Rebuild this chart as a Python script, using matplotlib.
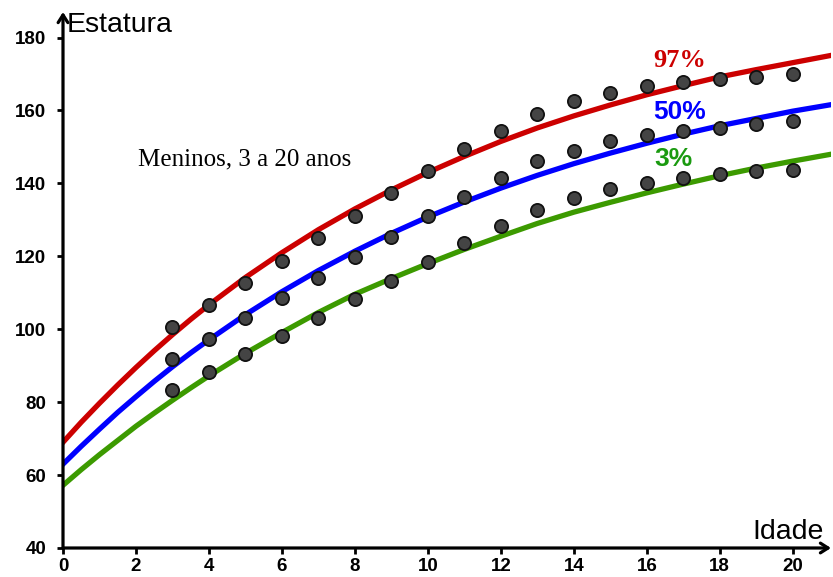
import matplotlib.pyplot as plt

# Idade (anos) dos pontos medidos
idades = [3, 4, 5, 6, 7, 8, 9, 10, 11, 12, 13, 14, 15, 16, 17, 18, 19, 20]

# Estatura (cm) medida - pontos
pontos_97 = [100.5, 106.6, 112.6, 118.6, 124.9, 131.0, 137.3, 143.3, 149.3,
             154.5, 158.9, 162.5, 164.7, 166.6, 167.7, 168.5, 169.3, 169.9]
pontos_50 = [91.8, 97.3, 103.0, 108.5, 114.0, 119.7, 125.2, 131.0, 136.4,
             141.6, 146.0, 149.0, 151.5, 153.4, 154.5, 155.3, 156.2, 157.0]
pontos_3 = [83.3, 88.2, 93.2, 98.1, 103.0, 108.2, 113.2, 118.4, 123.6,
            128.2, 132.6, 135.9, 138.4, 140.0, 141.4, 142.5, 143.3, 143.8]

# Curvas de percentis (lidas a cada meio ano ate 4, depois a cada ano)
idades_curva = [0, 0.5, 1, 1.5, 2, 2.5, 3, 3.5, 4, 5, 6, 7, 8, 9, 10,
                11, 12, 13, 14, 15, 16, 17, 18, 19, 20, 21]
curva_97 = [69.0, 74.5, 79.7, 84.7, 89.5, 94.1, 98.5, 102.7, 106.7, 114.2, 121.0,
            127.3, 133.0, 138.2, 143.0, 147.4, 151.5, 155.2, 158.5, 161.5, 164.3,
            166.8, 169.2, 171.2, 173.1, 175.0]
curva_50 = [63.0, 67.9, 72.6, 77.2, 81.5, 85.7, 89.7, 93.5, 97.1, 104.0, 110.3,
            116.1, 121.4, 126.3, 130.8, 134.9, 138.7, 142.2, 145.4, 148.3, 151.0,
            153.5, 155.8, 157.8, 159.8, 161.5]
curva_3 = [57.2, 61.5, 65.6, 69.5, 73.4, 77.0, 80.5, 83.9, 87.2, 93.4, 99.1,
           104.6, 109.6, 113.9, 118.0, 121.9, 125.5, 129.0, 132.1, 134.8, 137.4,
           139.8, 142.1, 144.2, 146.1, 147.9]

x_ticks = [0, 2, 4, 6, 8, 10, 12, 14, 16, 18, 20]
y_ticks = [40, 60, 80, 100, 120, 140, 160, 180]

fig = plt.figure(figsize=(8.33, 5.77), dpi=100)
ax = fig.add_axes([63 / 833, 29 / 577, 768 / 833, 536 / 577])

ax.plot(idades_curva, curva_97, color="#cc0000", linewidth=3.8, zorder=2)
ax.plot(idades_curva, curva_50, color="#0000ff", linewidth=3.8, zorder=2)
ax.plot(idades_curva, curva_3, color="#3c9a00", linewidth=3.8, zorder=2)

for pts in (pontos_97, pontos_50, pontos_3):
    ax.plot(idades, pts, linestyle="none", marker="o", markersize=9.5,
            markerfacecolor="#444444", markeredgecolor="#111111",
            markeredgewidth=1.3, zorder=3)

ax.set_xlim(0, 21.05)
ax.set_ylim(40, 187)

# Eixos com setas
for s in ax.spines.values():
    s.set_visible(False)
arrow = dict(arrowstyle="->,head_length=0.55,head_width=0.35", lw=2.3,
             color="black", shrinkA=0, shrinkB=0)
ax.annotate("", xy=(0, 1.0), xytext=(0, 0), xycoords="axes fraction",
            arrowprops=arrow, annotation_clip=False)
ax.annotate("", xy=(1.0, 0), xytext=(0, 0), xycoords="axes fraction",
            arrowprops=arrow, annotation_clip=False)

ax.set_xticks(x_ticks)
ax.set_yticks(y_ticks)
tick_font = dict(family=["Liberation Sans Narrow", "Liberation Sans"],
                 weight="bold", size=13.5)
ax.set_xticklabels([str(t) for t in x_ticks], fontdict=tick_font)
ax.set_yticklabels([str(t) for t in y_ticks], fontdict=tick_font)
ax.tick_params(axis="both", direction="out", length=4, width=2, color="black")
ax.tick_params(axis="x", pad=3)
ax.tick_params(axis="y", pad=8)

ax.text(0.1, 187, "Estatura", fontsize=20.5, family="Liberation Sans",
        ha="left", va="top")
ax.text(20.85, 40.8, "Idade", fontsize=20.5, family="Liberation Sans",
        ha="right", va="bottom")
ax.text(2.05, 144.9, "Meninos, 3 a 20 anos", fontsize=18,
        family="Liberation Serif", ha="left", va="baseline")

ax.text(16.9, 173.7, "97%", color="#cc0000", fontsize=19, weight="bold",
        family="Liberation Serif", ha="center", va="center")
ax.text(16.9, 159.7, "50%", color="#0000ff", fontsize=19, weight="bold",
        family="Liberation Sans", ha="center", va="center")
ax.text(16.74, 146.6, "3%", color="#1a9a10", fontsize=19, weight="bold",
        family="Liberation Sans", ha="center", va="center")

fig.savefig("out.png", dpi=100)
